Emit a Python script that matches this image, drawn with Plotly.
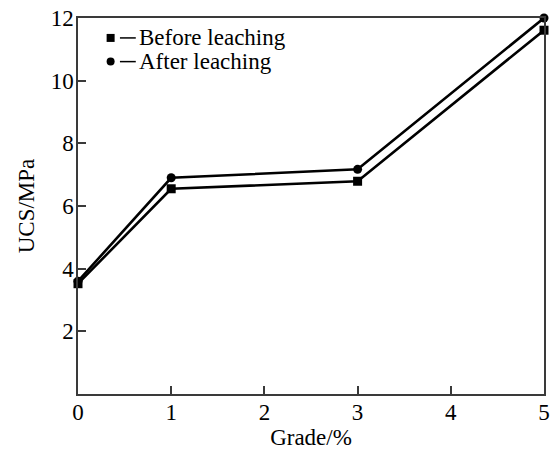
import plotly.graph_objects as go

# UCS of specimens by grade, before and after leaching
grade = [0, 1, 3, 5]
ucs_before = [3.52, 6.55, 6.79, 11.61]
ucs_after = [3.60, 6.90, 7.17, 12.00]

series_names = ["Before leaching", "After leaching"]
series_symbols = ["square", "circle"]

x_ticks = [0, 1, 2, 3, 4, 5]
y_ticks = [2, 4, 6, 8, 10, 12]

FONT = "Liberation Serif, Times New Roman, Times, serif"
AXIS_COLOR = "#3a3a3a"

fig = go.Figure()
fig.add_trace(go.Scatter(
    x=grade, y=ucs_before, mode="lines+markers", name=series_names[0],
    line=dict(color="black", width=2.6),
    marker=dict(symbol="square", size=9, color="black"),
    showlegend=False, cliponaxis=False,
))
fig.add_trace(go.Scatter(
    x=grade, y=ucs_after, mode="lines+markers", name=series_names[1],
    line=dict(color="black", width=2.6),
    marker=dict(symbol="circle", size=9, color="black"),
    showlegend=False, cliponaxis=False,
))

# hand-drawn key in the upper-left corner: marker, short dash, label
key_x = 0.07   # paper fraction of marker centre
key_rows = [0.947, 0.884]
for name, sym, ky in zip(series_names, series_symbols, key_rows):
    shape_type = "rect" if sym == "square" else "circle"
    fig.add_shape(type=shape_type, xref="paper", yref="paper",
                  xsizemode="pixel", ysizemode="pixel",
                  xanchor=key_x, yanchor=ky,
                  x0=-4, x1=4, y0=-4, y1=4,
                  fillcolor="black", line=dict(width=0))
    fig.add_shape(type="line", xref="paper", yref="paper",
                  x0=key_x + 0.02, x1=key_x + 0.054, y0=ky, y1=ky,
                  line=dict(color="black", width=1.5))
    fig.add_annotation(text=name, xref="paper", yref="paper",
                       x=key_x + 0.056, y=ky, xanchor="left", yanchor="middle",
                       showarrow=False, font=dict(family=FONT, size=23, color="black"))

tick_font = dict(family=FONT, size=23, color="black")
title_font = dict(family=FONT, size=23, color="black")

fig.update_layout(
    width=550, height=450,
    margin=dict(l=78, r=6, t=18, b=56),
    paper_bgcolor="white", plot_bgcolor="white",
    font=dict(family=FONT, size=23, color="black"),
    xaxis=dict(
        range=[0, 5], tickvals=x_ticks, ticks="inside", ticklen=8,
        tickwidth=1.5, tickcolor=AXIS_COLOR, tickfont=tick_font,
        ticklabelstandoff=-3,
        showline=True, linecolor=AXIS_COLOR, linewidth=1.5, mirror=True,
        showgrid=False, zeroline=False,
        title=dict(text="Grade/%", font=title_font, standoff=2),
        automargin=False,
    ),
    yaxis=dict(
        range=[0, 12], tickvals=y_ticks, ticks="inside", ticklen=8,
        tickwidth=1.5, tickcolor=AXIS_COLOR, tickfont=tick_font,
        ticklabelstandoff=-2,
        showline=True, linecolor=AXIS_COLOR, linewidth=1.5, mirror=True,
        showgrid=False, zeroline=False,
        title=dict(text="UCS/MPa", font=title_font, standoff=10),
        automargin=False,
    ),
)

fig.write_html("out.html")
